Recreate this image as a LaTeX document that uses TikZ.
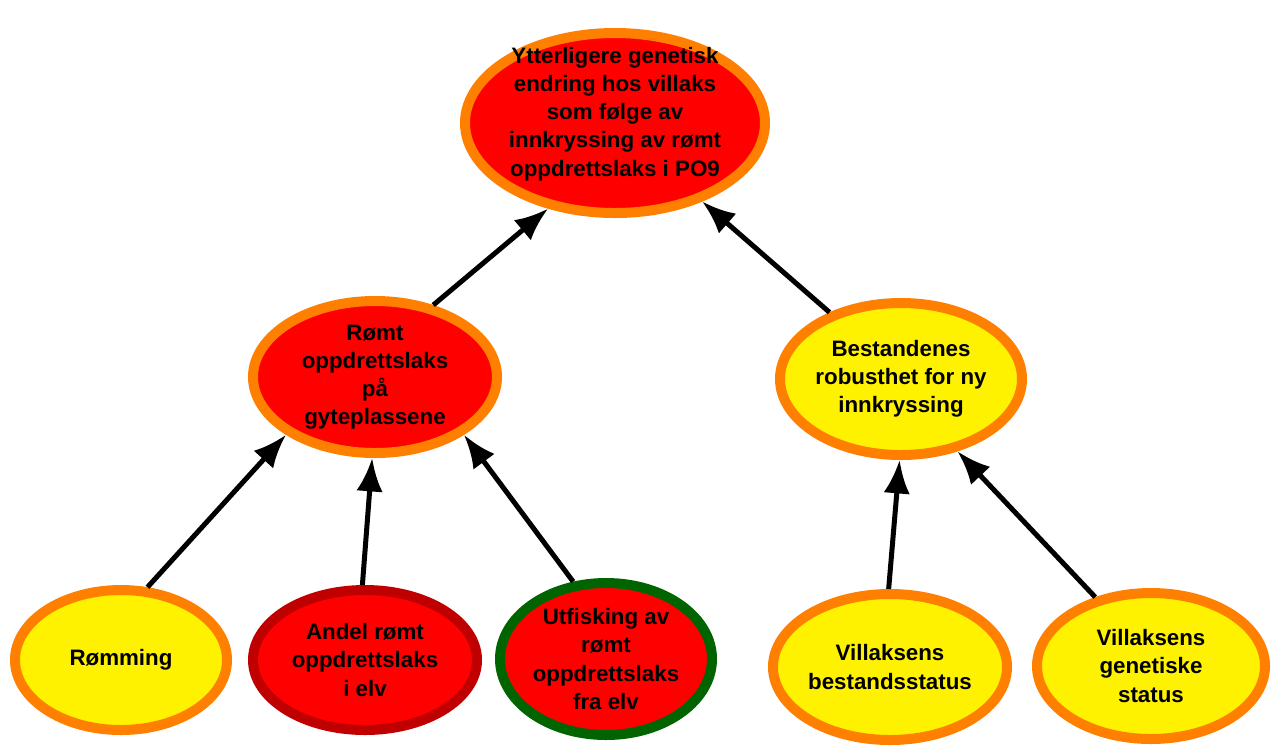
\documentclass[tikz,border=0pt]{standalone}
\usepackage{fontspec}
\setmainfont{Liberation Sans}
\usetikzlibrary{arrows.meta, positioning, shapes.geometric}

\definecolor{kantoransje}{RGB}{255,128,0}
\definecolor{gul}{RGB}{255,242,0}
\definecolor{morkerod}{RGB}{192,0,0}
\definecolor{morkegronn}{RGB}{0,100,0}

\begin{document}
\begin{tikzpicture}[
        every node/.style={inner sep=0pt, align=center,
            font=\fontsize{12.7}{16}\selectfont\bfseries},
        boble/.style={ellipse, draw, line width=0.2cm},
        rodboks/.style={boble, fill=red, draw=kantoransje},
        gulboks/.style={boble, fill=gul, draw=kantoransje},
        pil/.style={line width=0.1cm, -{Latex[length=19pt,width=15pt]}}
    ]
        \useasboundingbox (0,0) rectangle (25.46,-14.94);

        % Toppnivå
        \node [rodboks, minimum width=6cm, minimum height=3.6cm] (topp) at (12.3,-2.46) {};
        \node (toppTekst) at ([yshift=0.18cm]topp.center)
            {Ytterligere genetisk\\endring hos villaks\\som følge av\\innkryssing av rømt\\oppdrettslaks i PO9};

        % Mellomnivå
        \node [rodboks, minimum width=4.88cm, minimum height=3.04cm] (romt) at (7.5,-7.54)
            {Rømt\\oppdrettslaks\\på\\gyteplassene};
        \node [gulboks, minimum width=4.84cm, minimum height=3.04cm] (best) at (18.02,-7.58)
            {Bestandenes\\robusthet for ny\\innkryssing};

        % Nederste nivå
        \node [gulboks, minimum width=4.24cm, minimum height=2.8cm] (romming) at (2.42,-13.2)
            {Rømming};
        \node [boble, fill=red, draw=morkerod, minimum width=4.48cm, minimum height=2.8cm] (andel) at (7.3,-13.2)
            {Andel rømt\\oppdrettslaks\\i elv};
        \node [boble, fill=red, draw=morkegronn, minimum width=4.24cm, minimum height=3.04cm] (utfisk) at (12.12,-13.18)
            {Utfisking av\\rømt\\oppdrettslaks\\fra elv};
        \node [gulboks, minimum width=4.68cm, minimum height=2.92cm] (villbest) at (17.8,-13.34)
            {Villaksens\\bestandsstatus};
        \node [gulboks, minimum width=4.56cm, minimum height=2.92cm] (villgen) at (23.02,-13.32)
            {Villaksens\\genetiske\\status};

        % Piler oppover
        \draw[pil] (romt.51) -- (topp.232);
        \draw[pil] (best.137) -- (topp.318);
        \draw[pil] (romming.70) -- (romt.213);
        \draw[pil] (andel.92) -- (romt.268);
        \draw[pil] (utfisk.113) -- (romt.327);
        \draw[pil] (villbest.91) -- (best.269);
        \draw[pil] (villgen.129) -- (best.308);
    \end{tikzpicture}
\end{document}
